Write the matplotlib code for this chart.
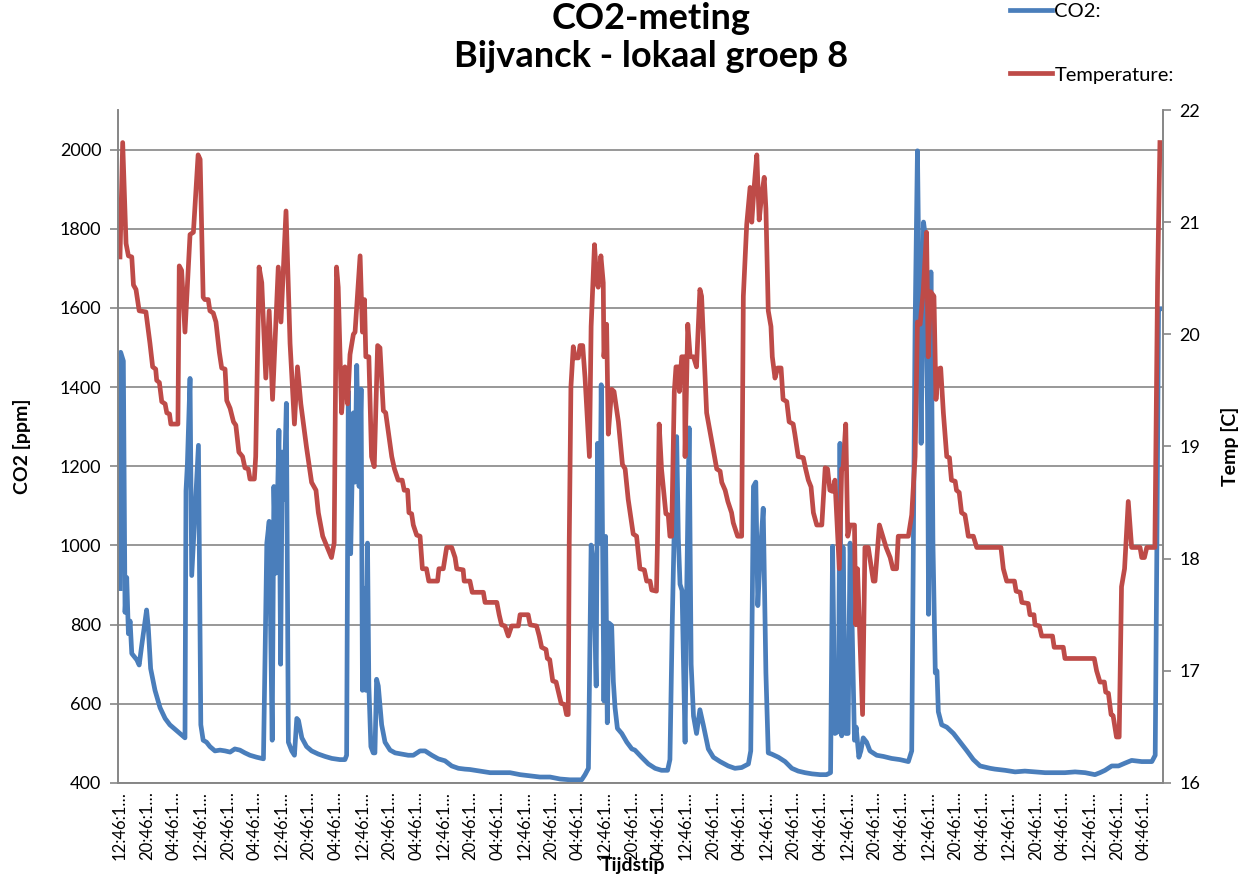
import matplotlib
matplotlib.use("Agg")
import matplotlib.pyplot as plt

plt.rcParams["font.family"] = ["Lato", "DejaVu Sans"]

# hours since first sample (12:46)
co2_hours = [
    0.0, 0.2, 1.0, 1.5, 2.0, 2.5, 3.0, 3.5, 5.0, 5.7, 6.4, 7.9, 8.4, 9.1, 10.4,
    11.9, 13.4, 14.8, 16.3, 17.8, 19.3, 19.6, 20.0, 20.8, 21.3, 22.6, 23.3, 24.0,
    24.7, 25.7, 26.7, 28.2, 29.7, 31.2, 32.7, 34.1, 35.6, 37.1, 38.6, 40.6, 42.6,
    43.6, 44.3, 45.2, 45.7, 46.3, 47.2, 47.7, 48.2, 48.7, 49.4, 50.0, 51.0, 51.8,
    52.5, 53.0, 54.0, 55.4, 56.9, 58.9, 60.9, 62.9, 65.3, 66.8, 67.3, 67.8, 68.5,
    69.3, 69.8, 70.3, 71.0, 71.6, 72.0, 72.6, 73.0, 73.5, 73.9, 74.5, 75.2, 75.7,
    76.2, 76.7, 77.7, 78.7, 80.2, 81.7, 83.7, 85.6, 87.1, 89.1, 90.6, 92.6, 94.5,
    96.5, 98.5, 100.5, 102.4, 103.9, 106.9, 109.9, 112.8, 115.8, 118.8, 121.8,
    124.7, 127.7, 130.7, 133.6, 137.1, 138.1, 139.1, 139.9, 140.6, 141.4, 141.8,
    142.5, 142.9, 143.7, 144.2, 144.7, 145.2, 146.0, 146.5, 147.0, 147.7, 149.0,
    150.5, 152.0, 152.9, 154.9, 156.9, 158.9, 160.8, 162.6, 163.3, 164.0, 164.6,
    165.3, 165.8, 166.3, 166.9, 167.8, 168.3, 169.0, 169.6, 170.3, 171.2, 172.2,
    173.2, 174.7, 176.2, 178.2, 180.6, 182.6, 184.6, 186.6, 187.3, 188.1, 188.8,
    189.4, 190.1, 191.0, 191.8, 192.5, 193.5, 195.5, 197.5, 199.5, 201.4, 203.4,
    205.5, 207.9, 209.8, 211.0, 211.6, 212.3, 213.3, 213.8, 214.3, 214.7, 215.5,
    216.2, 216.8, 217.4, 218.1, 218.6, 219.4, 220.0, 220.7, 221.7, 222.7, 224.7,
    226.7, 229.1, 231.6, 234.1, 235.1, 235.6, 236.1, 236.8, 237.4, 237.9, 238.6,
    239.1, 239.8, 240.1, 240.8, 241.4, 242.1, 242.6, 243.0, 244.0, 245.5, 247.5,
    249.5, 251.5, 253.4, 255.4, 258.4, 259.8, 262.8, 265.8, 268.7, 271.7, 274.7,
    277.7, 280.6, 283.6, 286.6, 289.5, 291.0, 292.5, 294.5, 296.5, 298.4, 300.4,
    303.4, 306.4, 307.4, 307.9, 308.4, 308.8,
]
co2_ppm = [
    891, 1488, 1466, 831, 919, 777, 809, 727, 711, 698, 744, 837, 793, 689, 634,
    590, 563, 547, 536, 525, 514, 1138, 1203, 1422, 924, 1138, 1253, 547,
    508, 503, 492, 481, 483, 481, 478, 486, 483, 476, 470, 465, 461,
    1006, 1061, 508, 1149, 930, 1291, 700, 1236, 1116, 1359, 503, 481, 470,
    563, 558, 514, 492, 481, 473, 467, 462, 459, 459, 470, 1390, 979,
    1335, 1160, 1455, 1149, 1395, 634, 892, 634, 1006, 645, 492, 476, 476,
    662, 645, 547, 503, 483, 476, 473, 470, 470, 481, 481, 470, 461,
    456, 443, 437, 435, 434, 430, 426, 426, 426, 421, 418,
    415, 415, 410, 408, 408, 421, 437, 1001, 952, 645, 1258,
    1006, 1406, 607, 1023, 552, 804, 798, 656, 590, 538, 525,
    503, 486, 483, 465, 448, 437, 432, 432, 459, 809, 1050,
    1275, 1017, 902, 886, 503, 897, 1297, 700, 569, 525, 585,
    547, 486, 465, 454, 443, 437, 439, 448, 481, 1149, 1160,
    848, 974, 1094, 678, 476, 473, 465, 454, 437, 430, 426,
    423, 421, 421, 426, 998, 525, 530, 1258, 519, 996, 525,
    525, 1006, 798, 508, 541, 465, 481, 514, 503, 481, 470,
    467, 462, 459, 454, 481, 1028, 1554, 1997, 1576, 1258, 1817,
    1784, 1335, 826, 1691, 1006, 678, 683, 580, 547, 541, 525,
    503, 481, 459, 443, 437, 435, 432, 428, 430, 428, 426,
    426, 426, 428, 426, 421, 426, 432, 443, 443, 450, 457,
    454, 454, 470, 1006, 1598, 1598,
]

temp_hours = [
    0.0, 0.8, 1.8, 2.5, 3.5, 4.0, 4.75, 5.7, 7.7, 8.9, 9.7, 10.6, 10.9, 11.7, 12.4,
    13.4, 13.9, 14.7, 15.1, 17.2, 17.6, 18.3, 19.3, 20.8, 21.8, 23.2, 23.8, 24.7,
    25.2, 26.2, 26.7, 27.7, 28.5, 29.5, 30.2, 31.2, 31.7, 32.7, 33.7, 34.4, 35.3,
    36.4, 37.1, 38.1, 38.6, 39.9, 40.3, 41.3, 42.1, 43.3, 44.3, 45.3, 46.2, 47.0,
    47.8, 49.3, 50.5, 51.8, 52.7, 53.7, 55.4, 56.9, 58.2, 58.9, 60.2, 61.3, 62.8,
    63.6, 64.3, 64.8, 65.8, 66.8, 67.6, 68.3, 69.3, 69.8, 71.3, 72.0, 72.6, 73.0,
    73.9, 74.7, 75.5, 76.5, 77.2, 78.2, 78.9, 80.7, 81.5, 82.6, 83.8, 84.4, 85.4,
    85.8, 86.6, 87.1, 88.1, 89.1, 89.8, 91.0, 91.7, 94.3, 94.7, 96.0, 97.0, 98.5,
    99.5, 100.0, 101.9, 102.2, 103.9, 104.6, 107.9, 108.4, 111.9, 112.6, 113.3,
    114.3, 115.3, 116.3, 118.3, 118.8, 121.2, 121.8, 123.7, 124.5, 125.2, 126.5,
    126.9, 127.6, 128.5, 129.5, 130.2, 131.0, 132.0, 132.6, 133.1, 133.4, 133.9,
    134.6, 135.1, 136.1, 136.6, 137.4, 138.1, 139.4, 139.9, 140.9, 141.6, 142.0,
    142.8, 143.5, 143.7, 144.5, 145.0, 146.0, 146.7, 148.0, 149.2, 150.0, 150.9,
    152.4, 153.4, 154.4, 155.7, 156.4, 157.4, 157.9, 159.3, 159.6, 160.1, 160.8,
    162.1, 162.8, 163.3, 163.8, 164.6, 165.1, 165.8, 166.1, 166.8, 167.6, 167.8,
    168.6, 169.3, 170.3, 171.2, 172.2, 172.7, 174.2, 175.7, 177.2, 178.2, 178.7,
    179.7, 180.5, 181.6, 182.1, 183.4, 184.6, 185.1, 186.1, 187.1, 187.6, 188.3,
    189.1, 189.8, 190.5, 191.3, 191.8, 192.5, 193.3, 193.7, 194.5, 195.3, 196.3,
    196.9, 198.0, 198.7, 199.9, 200.4, 201.4, 202.9, 203.6, 204.4, 205.2, 205.9,
    206.9, 208.4, 209.4, 210.1, 210.8, 211.6, 212.3, 213.6, 214.3, 214.7, 215.5,
    216.1, 216.8, 218.1, 218.5, 219.0, 220.5, 221.2, 222.2, 223.7, 224.2, 225.5,
    226.5, 227.5, 228.7, 229.5, 230.6, 231.1, 234.1, 235.1, 236.1, 236.8, 237.6,
    238.5, 239.5, 240.0, 240.7, 241.7, 242.3, 243.0, 243.7, 244.5, 245.5, 246.3,
    246.9, 248.0, 248.4, 249.2, 249.9, 250.9, 251.4, 251.9, 253.4, 254.4, 261.6,
    262.3, 263.3, 265.6, 266.1, 267.3, 267.8, 269.7, 270.2, 271.4, 271.7, 273.0,
    273.7, 276.9, 277.4, 280.1, 280.6, 289.3, 290.0, 291.0, 292.3, 292.7, 293.5,
    294.3, 294.9, 295.9, 296.7, 297.4, 298.3, 299.4, 300.4, 302.9, 303.4, 304.2,
    304.9, 307.3, 308.1, 308.8,
]
temp_c = [
    20.69, 21.71, 20.81, 20.70, 20.69, 20.44, 20.40, 20.21, 20.20, 19.92, 19.71, 19.69, 19.59, 19.57, 19.40,
    19.38, 19.30, 19.29, 19.20, 19.20, 20.61, 20.57, 20.02, 20.89, 20.91, 21.60, 21.56, 20.33,
    20.31, 20.31, 20.21, 20.19, 20.11, 19.84, 19.70, 19.69, 19.41, 19.34, 19.22, 19.19, 18.95,
    18.91, 18.81, 18.80, 18.71, 18.71, 18.91, 20.60, 20.46, 19.61, 20.21, 19.42, 20.04, 20.60,
    20.11, 21.10, 19.92, 19.20, 19.71, 19.38, 18.99, 18.68, 18.61, 18.41, 18.20, 18.12, 18.01,
    18.14, 20.60, 20.42, 19.30, 19.71, 19.38, 19.82, 20.00, 20.02, 20.70, 20.02, 20.31, 19.80,
    19.80, 18.91, 18.82, 19.90, 19.88, 19.32, 19.30, 18.91, 18.80, 18.70, 18.70, 18.61, 18.61,
    18.41, 18.40, 18.30, 18.21, 18.20, 17.91, 17.91, 17.80, 17.80, 17.91, 17.91, 18.10, 18.10,
    18.01, 17.91, 17.90, 17.80, 17.80, 17.70, 17.70, 17.61, 17.61, 17.50, 17.41,
    17.40, 17.31, 17.40, 17.40, 17.50, 17.50, 17.41, 17.40, 17.31, 17.21, 17.19,
    17.11, 17.10, 16.91, 16.90, 16.81, 16.71, 16.70, 16.61, 16.61, 18.14, 19.53,
    19.89, 19.79, 19.79, 19.90, 19.90, 19.61, 18.91, 20.07, 20.80, 20.46, 20.42,
    20.70, 20.46, 19.80, 20.09, 19.11, 19.51, 19.49, 19.22, 18.84, 18.80, 18.53,
    18.22, 18.20, 17.91, 17.90, 17.80, 17.80, 17.72, 17.71, 18.14, 19.20, 18.80,
    18.40, 18.39, 18.20, 18.20, 19.49, 19.71, 19.71, 19.49, 19.80, 19.80, 18.91,
    20.09, 19.80, 19.80, 19.71, 20.40, 20.34, 19.30, 19.05, 18.80, 18.78, 18.68,
    18.61, 18.51, 18.41, 18.32, 18.20, 18.20, 20.34, 20.98, 21.31, 21.00, 21.31,
    21.60, 21.02, 21.23, 21.40, 21.12, 20.21, 20.07, 19.80, 19.61, 19.70, 19.70,
    19.42, 19.40, 19.22, 19.20, 19.11, 18.91, 18.90, 18.80, 18.70, 18.64, 18.41,
    18.30, 18.30, 18.81, 18.80, 18.61, 18.60, 18.70, 17.91, 18.80, 18.80, 19.20,
    18.20, 18.30, 18.30, 17.41, 17.91, 16.61, 18.10, 18.10, 17.80, 17.80, 18.30,
    18.20, 18.10, 18.01, 17.91, 17.91, 18.20, 18.20, 18.39, 18.91, 20.11, 20.09,
    20.38, 20.91, 19.80, 20.38, 20.34, 19.42, 19.69, 19.70, 19.30, 18.91, 18.90,
    18.70, 18.69, 18.61, 18.59, 18.41, 18.39, 18.30, 18.20, 18.20, 18.10, 18.10,
    17.91, 17.80, 17.80, 17.71, 17.70, 17.61, 17.60, 17.50, 17.50, 17.41, 17.40,
    17.31, 17.31, 17.21, 17.21, 17.11, 17.11, 17.00, 16.90, 16.90, 16.81, 16.80,
    16.61, 16.60, 16.41, 16.41, 17.75, 17.91, 18.51, 18.10, 18.10, 18.01, 18.01,
    18.10, 18.10, 20.46, 21.71,
]

tick_times = ["12:46:1\u2026", "20:46:1\u2026", "04:46:1\u2026"]
tick_hours = list(range(0, 305, 8))
tick_labels = [tick_times[i % 3] for i in range(len(tick_hours))]

blue = "#4A7EBB"
red = "#BE4B48"
grey = "#868686"

fig = plt.figure(figsize=(12.47, 8.76), dpi=100)
ax = fig.add_axes([0.0946, 0.1062, 0.838, 0.7682])
ax2 = ax.twinx()

line1, = ax.plot(co2_hours, co2_ppm, color=blue, lw=3.4, label="CO2:",
                 solid_joinstyle="round")
line2, = ax2.plot(temp_hours, temp_c, color=red, lw=3.4, label="Temperature:",
                  solid_joinstyle="round")

ax.set_xlim(-0.6, 309.7)
ax.set_ylim(400, 2100)
ax.set_yticks(range(400, 2001, 200))
ax2.set_ylim(16, 22)
ax2.set_yticks(range(16, 23))

ax.set_xticks(tick_hours)
ax.set_xticklabels(tick_labels, rotation=90, fontsize=12)
ax.grid(axis="y", color=grey, lw=1.2)
ax.set_axisbelow(True)

for a in (ax, ax2):
    a.spines["top"].set_visible(False)
    for s in ("left", "right", "bottom"):
        a.spines[s].set_color(grey)
        a.spines[s].set_linewidth(1.2)
ax.tick_params(axis="y", labelsize=13, color=grey, length=6, width=1.2, pad=6)
ax2.tick_params(axis="y", labelsize=13, color=grey, length=6, width=1.2, pad=6)
ax.tick_params(axis="x", length=0, pad=6)

ax.set_ylabel("CO2 [ppm]", fontsize=14, fontweight="bold", labelpad=21)
ax2.set_ylabel("Temp [C]", fontsize=14, fontweight="bold", labelpad=15)
fig.text(633 / 1247, 1 - 866 / 876, "Tijdstip", fontsize=14, fontweight="bold",
         ha="center", va="center")

fig.suptitle("CO2-meting\nBijvanck - lokaal groep 8", x=651 / 1247, y=0.998,
             fontsize=26, fontweight="bold", linespacing=1.2)

fig.legend(handles=[line1, line2], loc="upper left",
           bbox_to_anchor=(1010 / 1247, 1 - 3 / 876), frameon=False,
           fontsize=14.5, handlelength=2.1, handletextpad=0.1,
           labelspacing=2.3, borderpad=0, borderaxespad=0)

fig.savefig("out.png", dpi=100)
